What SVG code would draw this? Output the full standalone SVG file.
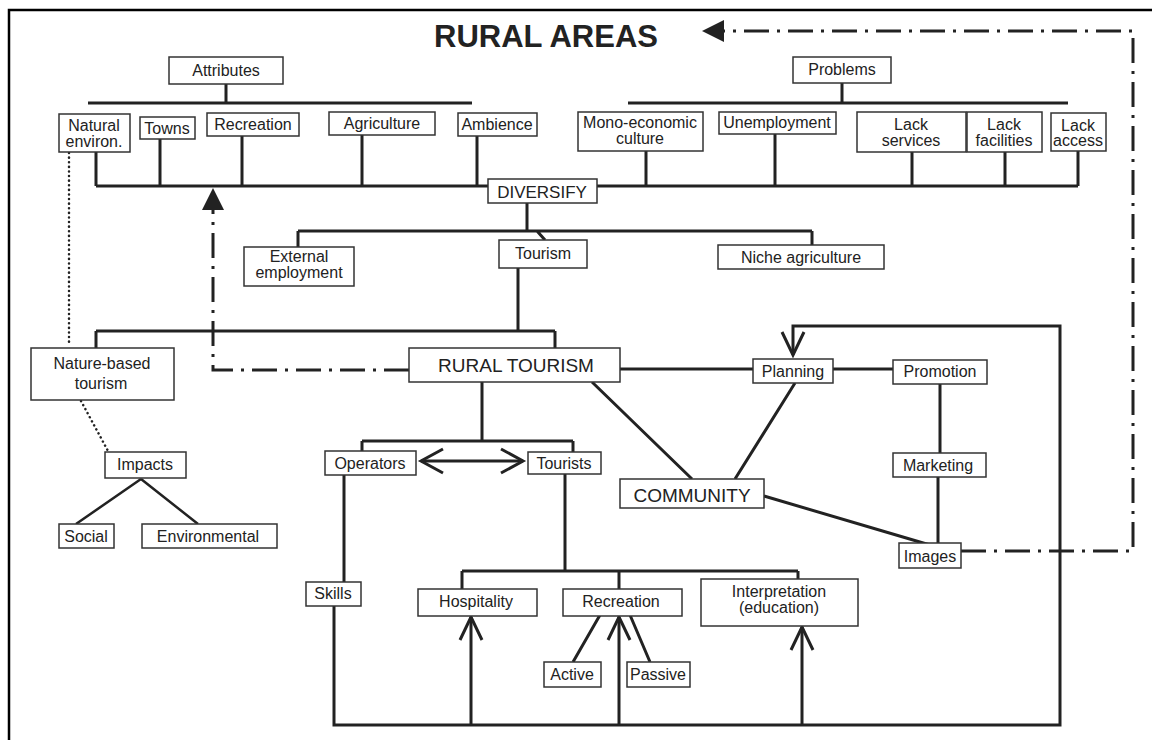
<svg xmlns="http://www.w3.org/2000/svg" width="1152" height="740" viewBox="0 0 1152 740">
<defs>
<style>
.box{fill:#fff;stroke:#333;stroke-width:1.5}
.t{font-family:"Liberation Sans",Arial,sans-serif;font-size:16px;fill:#222;text-anchor:middle}
.big{font-size:19px}
.ln{fill:none;stroke:#222;stroke-width:3;stroke-linecap:butt}
.dd{fill:none;stroke:#222;stroke-width:3;stroke-dasharray:25 8 3 8}
.dot{fill:none;stroke:#222;stroke-width:2.5;stroke-dasharray:0.1 4.5;stroke-linecap:round}
.ah{fill:none;stroke:#222;stroke-width:3}
</style>
</defs>
<rect width="1152" height="740" fill="#fff"/>
<g id="frame"><path d="M9,740 V10 H1152" fill="none" stroke="#000" stroke-width="2.5"/></g>
<text id="title" x="546" y="47" style="font-family:'Liberation Sans',Arial,sans-serif;font-weight:bold;font-size:31px;fill:#222" text-anchor="middle">RURAL AREAS</text>

<g id="connectors">
<path class="ln" d="M226,84V103 M88,103H472 M842,83V103 M628,103H1068"/>
<path class="ln" d="M96,186H1078 M96,152V186 M160,139V186 M242,136V186 M362,135V186 M477,136V186 M646,151V186 M775,134V186 M912,152V186 M1005,152V186 M1078,151V186"/>
<path class="ln" d="M527,203V231 M298,231H812 M298,231V247 M812,231V245 M537,231L545,240"/>
<path class="ln" d="M518,268V331 M96,331H555 M96,331V348 M555,331V348"/>
<path class="ln" d="M482,382V441 M362,441H573 M362,441V451 M573,441V452"/>
<path class="ln" d="M421,461H523"/>
<path class="ah" d="M443,449L421,461L443,473 M501,449L523,461L501,473"/>
<path class="ln" d="M344,475V582 M334,606V725H1060V326H793V355"/>
<path class="ah" d="M782,332L793,355L804,332"/>
<path class="ln" d="M565,474V571 M462,571H798 M462,571V589 M619,571V589 M798,571V579"/>
<path class="ln" d="M471,725V617 M619,725V617 M802,725V627"/>
<path class="ah" d="M460,640L471,617L482,640 M608,640L619,617L630,640 M791,650L802,627L813,650"/>
<path class="ln" d="M600,615L573,662 M630,615L650,662"/>
<path class="ln" d="M620,369H753 M833,369H893 M940,384V453 M938,477V543"/>
<path class="ln" d="M592,382L692,479 M795,383L735,479 M764,496L930,545"/>
<path class="ln" d="M141,479L76,524 M141,479L198,524" style="stroke-width:2.5"/>
<path class="dd" d="M961,551H1133V31H723"/>
<path d="M702,31L724,20V42Z" fill="#222"/>
<path class="dd" d="M409,370H213V209"/>
<path d="M213,188L202,210H224Z" fill="#222"/>
<path class="dot" d="M69,153V346 M81,401L108,451"/>
</g>

<g id="n-attributes"><rect class="box" x="169" y="57" width="114" height="27"/><text class="t" x="226" y="76">Attributes</text></g>
<g id="n-problems"><rect class="box" x="793" y="57" width="98" height="26"/><text class="t" x="842" y="75">Problems</text></g>
<g id="n-natural"><rect class="box" x="59" y="114" width="71" height="38"/><text class="t" x="94" y="131">Natural</text><text class="t" x="94" y="147">environ.</text></g>
<g id="n-towns"><rect class="box" x="140" y="117" width="55" height="22"/><text class="t" x="167" y="134">Towns</text></g>
<g id="n-recreation1"><rect class="box" x="207" y="113" width="92" height="23"/><text class="t" x="253" y="130">Recreation</text></g>
<g id="n-agriculture"><rect class="box" x="329" y="112" width="106" height="23"/><text class="t" x="382" y="129">Agriculture</text></g>
<g id="n-ambience"><rect class="box" x="458" y="113" width="79" height="23"/><text class="t" x="497" y="130">Ambience</text></g>
<g id="n-mono"><rect class="box" x="578" y="112" width="125" height="39"/><text class="t" x="640" y="128">Mono-economic</text><text class="t" x="640" y="144">culture</text></g>
<g id="n-unemployment"><rect class="box" x="719" y="112" width="117" height="22"/><text class="t" x="777" y="128">Unemployment</text></g>
<g id="n-services"><rect class="box" x="857" y="112" width="109" height="40"/><text class="t" x="911" y="130">Lack</text><text class="t" x="911" y="146">services</text></g>
<g id="n-facilities"><rect class="box" x="967" y="112" width="75" height="40"/><text class="t" x="1004" y="130">Lack</text><text class="t" x="1004" y="146">facilities</text></g>
<g id="n-access"><rect class="box" x="1051" y="113" width="55" height="38"/><text class="t" x="1078" y="131">Lack</text><text class="t" x="1078" y="146">access</text></g>
<g id="n-diversify"><rect class="box" x="488" y="179" width="109" height="24"/><text class="t" x="542" y="198" style="font-size:17px">DIVERSIFY</text></g>
<g id="n-external"><rect class="box" x="244" y="247" width="110" height="39"/><text class="t" x="299" y="262">External</text><text class="t" x="299" y="278">employment</text></g>
<g id="n-tourism"><rect class="box" x="499" y="240" width="88" height="28"/><text class="t" x="543" y="259">Tourism</text></g>
<g id="n-niche"><rect class="box" x="718" y="245" width="166" height="24"/><text class="t" x="801" y="263">Niche agriculture</text></g>
<g id="n-nature"><rect class="box" x="31" y="348" width="143" height="52"/><text class="t" x="102" y="369">Nature-based</text><text class="t" x="101" y="389">tourism</text></g>
<g id="n-rural-tourism"><rect class="box" x="409" y="348" width="211" height="34"/><text class="t big" x="516" y="372">RURAL TOURISM</text></g>
<g id="n-planning"><rect class="box" x="753" y="359" width="80" height="24"/><text class="t" x="793" y="377">Planning</text></g>
<g id="n-promotion"><rect class="box" x="893" y="360" width="94" height="24"/><text class="t" x="940" y="377">Promotion</text></g>
<g id="n-impacts"><rect class="box" x="105" y="452" width="81" height="26"/><text class="t" x="145" y="470">Impacts</text></g>
<g id="n-operators"><rect class="box" x="325" y="451" width="91" height="24"/><text class="t" x="370" y="469">Operators</text></g>
<g id="n-tourists"><rect class="box" x="528" y="452" width="73" height="22"/><text class="t" x="564" y="469">Tourists</text></g>
<g id="n-community"><rect class="box" x="620" y="479" width="144" height="29"/><text class="t big" x="692" y="502">COMMUNITY</text></g>
<g id="n-marketing"><rect class="box" x="893" y="453" width="93" height="24"/><text class="t" x="938" y="471">Marketing</text></g>
<g id="n-social"><rect class="box" x="59" y="524" width="55" height="24"/><text class="t" x="86" y="542">Social</text></g>
<g id="n-environmental"><rect class="box" x="142" y="524" width="135" height="24"/><text class="t" x="208" y="542">Environmental</text></g>
<g id="n-images"><rect class="box" x="899" y="543" width="62" height="25"/><text class="t" x="930" y="562">Images</text></g>
<g id="n-skills"><rect class="box" x="306" y="582" width="55" height="24"/><text class="t" x="333" y="599">Skills</text></g>
<g id="n-hospitality"><rect class="box" x="418" y="589" width="119" height="27"/><text class="t" x="476" y="607">Hospitality</text></g>
<g id="n-recreation2"><rect class="box" x="563" y="589" width="119" height="27"/><text class="t" x="621" y="607">Recreation</text></g>
<g id="n-interpretation"><rect class="box" x="701" y="579" width="157" height="47"/><text class="t" x="779" y="597">Interpretation</text><text class="t" x="779" y="613">(education)</text></g>
<g id="n-active"><rect class="box" x="544" y="662" width="57" height="25"/><text class="t" x="572" y="680">Active</text></g>
<g id="n-passive"><rect class="box" x="627" y="662" width="63" height="25"/><text class="t" x="658" y="680">Passive</text></g>
</svg>
